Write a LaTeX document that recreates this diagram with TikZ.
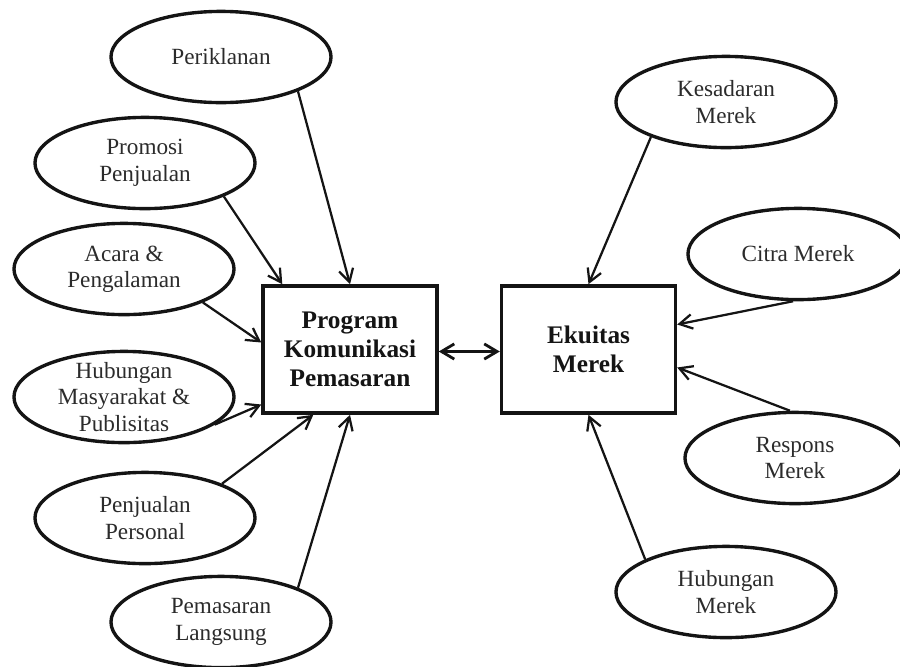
\documentclass[tikz,border=0pt]{standalone}
\usepackage{fontspec}
\setmainfont{Liberation Serif}
\usetikzlibrary{arrows.meta,calc,shapes.geometric}
\definecolor{pen}{HTML}{141414}
\definecolor{label}{HTML}{2B2B2B}

\begin{document}
\begin{tikzpicture}[
  x=0.025cm,y=-0.025cm,
  aspect/.style={ellipse,draw=pen,line width=2.4pt,minimum width=5.5cm,minimum height=2.28cm,inner xsep=0pt,inner ysep=-5pt,align=center,text=label,font=\fontsize{16.5}{18.8}\selectfont},
  hub/.style={rectangle,draw=pen,line width=2.4pt,minimum width=4.35cm,minimum height=3.18cm,align=center,text=pen,font=\fontsize{18}{20.6}\selectfont\bfseries},
  link/.style={-{Straight Barb[length=3.2mm,width=3.6mm]},line width=1.6pt,draw=pen},
  twoway/.style={{Straight Barb[length=3.2mm,width=3.8mm]}-{Straight Barb[length=3.2mm,width=3.8mm]},line width=2pt,draw=pen}
]
\useasboundingbox (0,0) rectangle (900,666);
% communication tools
\node[aspect] (iklan) at (221,57) {Periklanan};
\node[aspect] (promosi) at (145,163) {Promosi\\Penjualan};
\node[aspect] (acara) at (124,269) {Acara \&\\Pengalaman};
\node[aspect] (humas) at (124,397) {Hubungan\\Masyarakat \&\\Publisitas};
\node[aspect] (personal) at (145,518) {Penjualan\\Personal};
\node[aspect] (langsung) at (221,622) {Pemasaran\\Langsung};
% centre
\node[hub] (program) at (350,349.5) {Program\\Komunikasi\\Pemasaran};
\node[hub] (ekuitas) at (588.5,349.5) {Ekuitas\\Merek};
% brand equity parts
\node[aspect] (sadar) at (726,102) {Kesadaran\\Merek};
\node[aspect] (citra) at (798,254) {Citra Merek};
\node[aspect] (respons) at (795,458) {Respons\\Merek};
\node[aspect] (relasi) at (726,592) {Hubungan\\Merek};

\draw[link] (iklan.-24) -- (program.north);
\draw[link] (promosi.-23) -- ($(program.north west)+(21,0)$);
\draw[link] (acara.-23) -- ($(program.west)+(0,-7)$);
\draw[link] (humas.-17) -- ($(program.west)+(0,55)$);
\draw[link] (personal.24) -- ($(program.south west)+(52,0)$);
\draw[link] (langsung.24) -- (program.south);
\draw[twoway] ($(program.east)+(0,2)$) -- ($(ekuitas.west)+(0,2)$);
\draw[link] (sadar.-155) -- (ekuitas.north);
\draw[link] (citra.-96) -- ($(ekuitas.east)+(0,-25)$);
\draw[link] (respons.96) -- ($(ekuitas.east)+(0,18)$);
\draw[link] (relasi.158) -- (ekuitas.south);
\end{tikzpicture}
\end{document}
